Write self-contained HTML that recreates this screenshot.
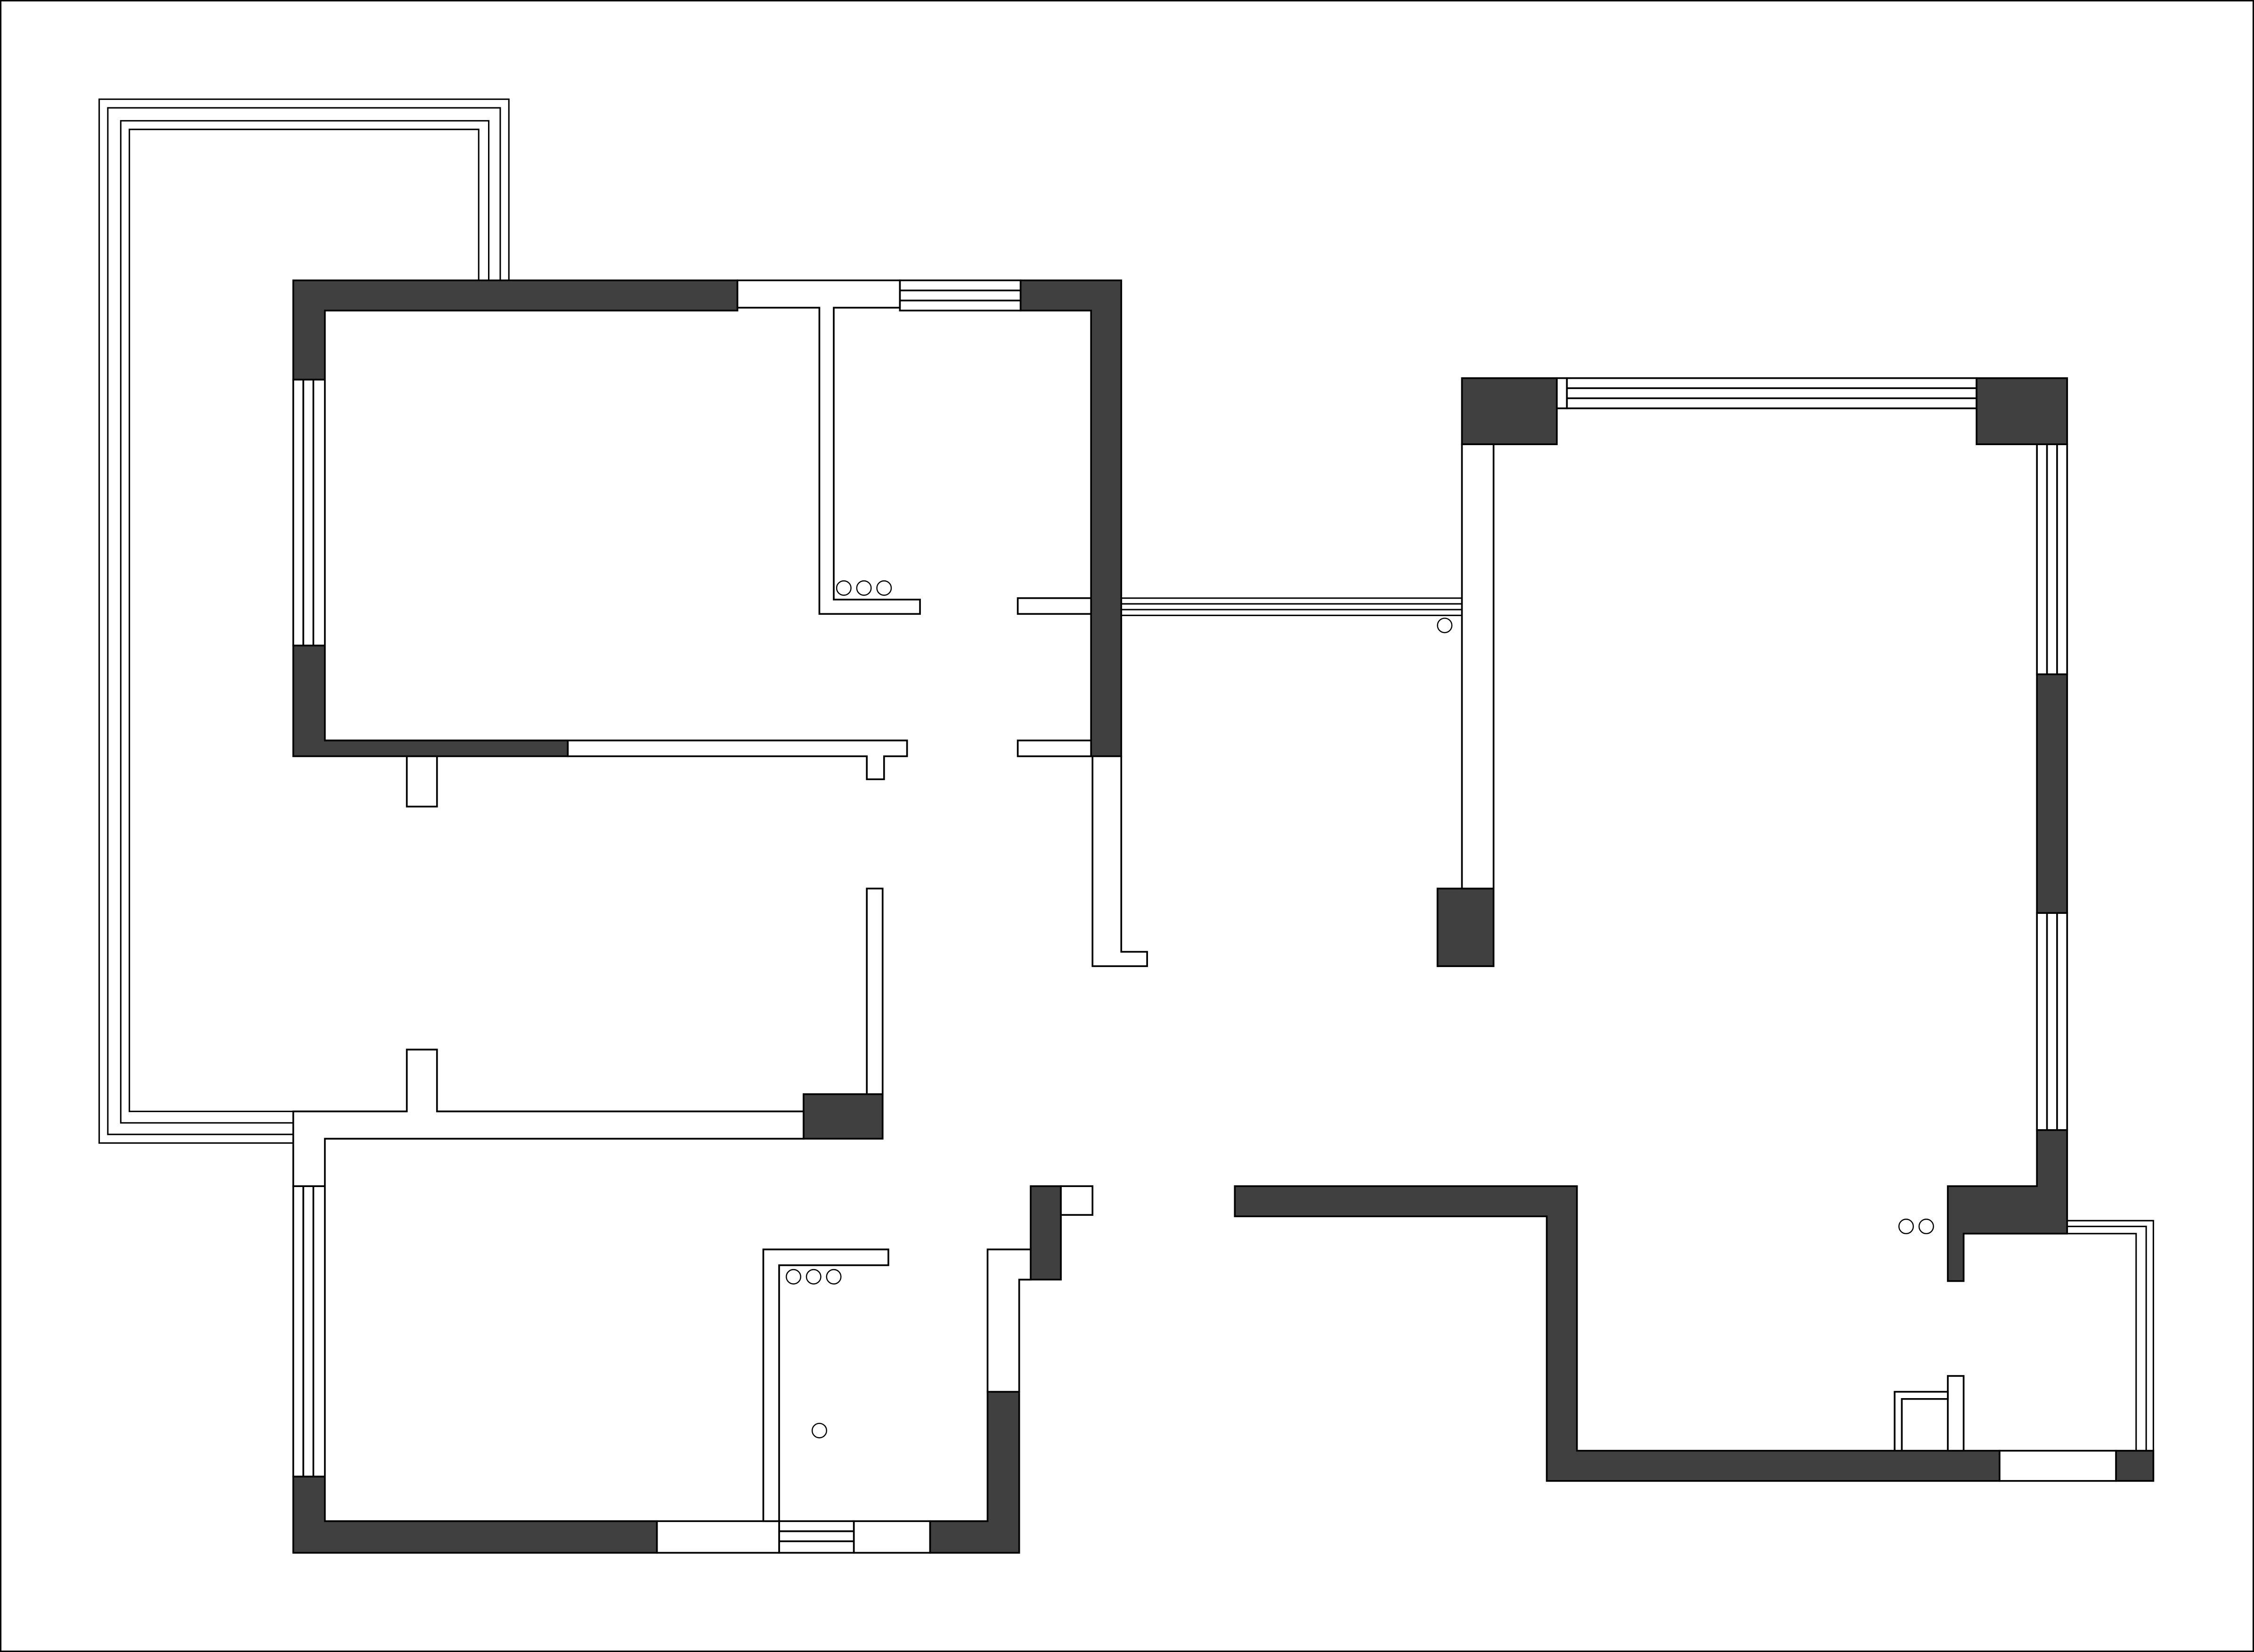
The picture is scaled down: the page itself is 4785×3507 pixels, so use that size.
<!DOCTYPE html>
<html><head><meta charset="utf-8"><style>
html,body{margin:0;padding:0;background:#fff}
svg{display:block}
</style></head><body>
<svg width="4785" height="3507" viewBox="0 0 1568 1149" preserveAspectRatio="none" xmlns="http://www.w3.org/2000/svg">
<rect x="0.5" y="0.5" width="1567" height="1148" fill="#fff" stroke="#000" stroke-width="1"/>
<g fill="none" stroke="#000" stroke-width="1">
<path d="M204,795 H69 V69 H354 V195"/>
<path d="M204,789 H75 V75 H348 V195"/>
<path d="M204,781 H84 V84 H340 V195"/>
<path d="M204,773 H90 V90 H333 V195"/>
<path d="M1438,849 H1498 V1009"/>
<path d="M1438,853 H1493 V1009"/>
<path d="M1438,858 H1486 V1009"/>
<path d="M780,416 H1017 M780,420 H1017 M780,424 H1017 M780,428 H1017"/>
</g>
<g stroke="#000" stroke-width="1.2">
<g fill="#fff">
<rect x="204" y="264" width="22" height="185"/>
<rect x="204" y="825" width="22" height="202"/>
<rect x="626" y="195" width="84" height="21"/>
<rect x="542" y="1058" width="52" height="22"/>
<rect x="1090" y="263" width="285" height="21"/>
<rect x="1417" y="309" width="21" height="160"/>
<rect x="1417" y="635" width="21" height="151"/>
</g>
<path fill="none" d="M211,264V449M218,264V449M211,825V1027M218,825V1027M626,202H710M626,209H710M542,1065H594M542,1072H594M1090,270H1375M1090,277H1375M1424,309V469M1431,309V469M1424,635V786M1431,635V786"/>
<g fill="#404040">
<path d="M204,195H513V216H226V264H204Z"/>
<path d="M204,449H226V515H395V526H204Z"/>
<path d="M710,195H780V526H759V216H710Z"/>
<rect x="559" y="761" width="55" height="31"/>
<path d="M204,1027H226V1058H457V1080H204Z"/>
<path d="M647,1058H687V968H709V1080H647Z"/>
<path d="M717,825H738V890H709V869H717Z"/>
<rect x="1017" y="263" width="66" height="46"/>
<rect x="1375" y="263" width="63" height="46"/>
<rect x="1000" y="618" width="39" height="54"/>
<rect x="1417" y="469" width="21" height="166"/>
<path d="M1417,786H1438V858H1366V891H1355V825H1417Z"/>
<path d="M859,825H1097V1009H1391V1030H1076V846H859Z"/>
<rect x="1472" y="1009" width="26" height="21"/>
</g>
<g fill="#fff">
<path d="M513,195H626V214H580V417H640V427H570V214H513Z"/>
<path d="M395,515H631V526H615V542H603V526H395Z"/>
<rect x="283" y="526" width="21" height="35"/>
<rect x="708" y="416" width="51" height="11"/>
<rect x="708" y="515" width="51" height="11"/>
<path d="M760,526H780V662H798V672H760Z"/>
<path d="M204,773H283V730H304V773H559V792H226V825H204Z"/>
<rect x="603" y="618" width="11" height="143"/>
<rect x="457" y="1058" width="85" height="22"/>
<rect x="594" y="1058" width="53" height="22"/>
<path d="M687,869H717V890H709V968H687Z"/>
<rect x="738" y="825" width="22" height="20"/>
<path d="M531,869H618V880H542V1058H531Z"/>
<rect x="1083" y="263" width="7" height="21"/>
<rect x="1017" y="309" width="22" height="309"/>
<rect x="1391" y="1009" width="81" height="21"/>
<rect x="1355" y="957" width="11" height="52"/>
<path d="M1318,1009V968H1355V973H1323V1009Z"/>
</g>
<g fill="#fff" stroke-width="0.8">
<circle cx="587" cy="409" r="5"/><circle cx="601" cy="409" r="5"/><circle cx="615" cy="409" r="5"/>
<circle cx="552" cy="888" r="5"/><circle cx="566" cy="888" r="5"/><circle cx="580" cy="888" r="5"/>
<circle cx="570" cy="995" r="5"/>
<circle cx="1005" cy="435" r="5"/>
<circle cx="1326" cy="853" r="5"/><circle cx="1340" cy="853" r="5"/>
</g>
</g>
</svg>
</body></html>
